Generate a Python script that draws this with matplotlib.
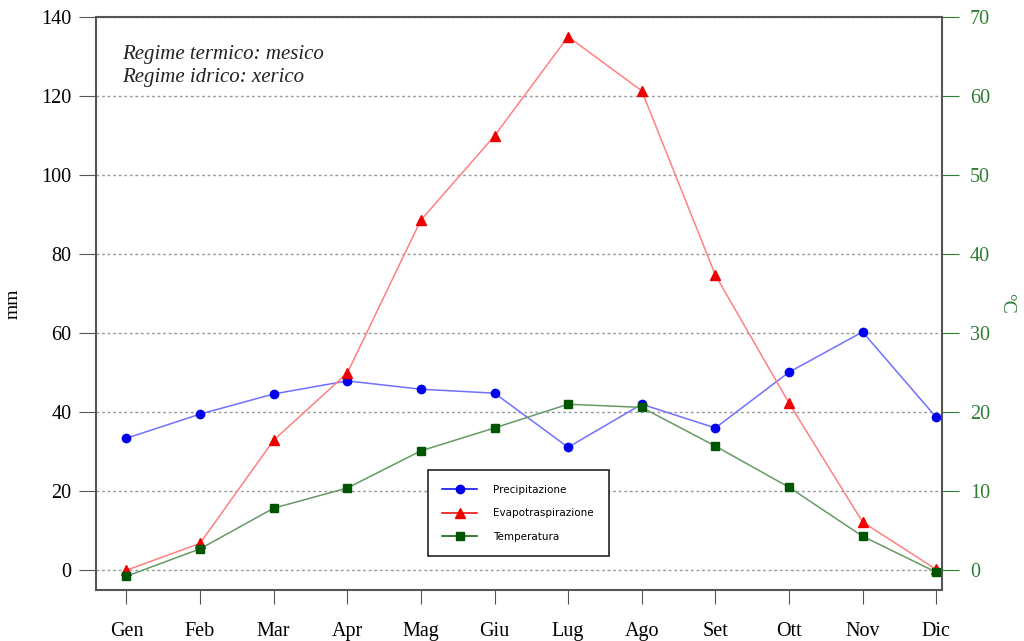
import numpy as np
import matplotlib.pyplot as plt

months = ["Gen", "Feb", "Mar", "Apr", "Mag", "Giu", "Lug", "Ago", "Set", "Ott", "Nov", "Dic"]
precipitazione = [33.4, 39.5, 44.6, 47.9, 45.8, 44.8, 31.1, 42.0, 36.0, 50.1, 60.3, 38.7]
evapotraspirazione = [0.0, 6.8, 32.9, 49.9, 88.6, 109.9, 135.0, 121.3, 74.7, 42.3, 12.2, 0.2]
temperatura = [-0.76, 2.7, 7.85, 10.4, 15.1, 18.0, 21.0, 20.6, 15.7, 10.5, 4.3, -0.25]

plt.rcParams['font.family'] = ['Liberation Serif', 'DejaVu Serif']

fig = plt.figure(figsize=(10.24, 6.41), dpi=100)
ax = fig.add_axes([0.094, 0.0796, 0.826, 0.894])
x = np.arange(len(months))

# lines drawn lightly, markers on top
ax.plot(x, precipitazione, color='#7070ff', lw=1.1, zorder=2)
ax.plot(x, precipitazione, 'o', color='#0000ee', ms=6, zorder=3)
ax.plot(x, evapotraspirazione, color='#ff8080', lw=1.1, zorder=2)
ax.plot(x, evapotraspirazione, '^', color='#ee0000', ms=7, zorder=3)

ax.set_xlim(-0.41, 11.08)
ax.set_ylim(-5, 140)
ax.set_yticks(np.arange(0, 141, 20))
ax.set_xticks(x)
ax.set_xticklabels(months)
ax.tick_params(axis='x', length=10, pad=13, labelsize=14.5, color='#555555')
ax.tick_params(axis='y', length=12, pad=6, labelsize=14.5, color='#555555')
ax.grid(axis='y', linestyle=(0, (2, 2)), color='#999999', lw=1)
ax.set_ylabel("mm", fontsize=14, labelpad=14)
for s in ax.spines.values():
    s.set_color('#555555')
    s.set_linewidth(1.5)

ax2 = ax.twinx()
ax2.plot(x, temperatura, color='#669966', lw=1.1, zorder=2)
ax2.plot(x, temperatura, 's', color='#005500', ms=6, zorder=3)
ax2.set_ylim(-2.5, 70)
ax2.set_yticks(np.arange(0, 71, 10))
ax2.tick_params(axis='y', length=12, pad=8, labelsize=14.5, colors='#2e7d32')
ax2.set_ylabel("°C", fontsize=14, color='#2e7d32', rotation=270, labelpad=18)
for s in ax2.spines.values():
    s.set_visible(False)

ax.text(0.031, 0.951, "Regime termico: mesico\nRegime idrico: xerico",
        transform=ax.transAxes, fontsize=15, style='italic', va='top',
        linespacing=1.3, color='#222222')

h1, = ax.plot([], [], '-o', color='#0000ee', ms=6, lw=1.1)
h2, = ax.plot([], [], '-^', color='#ee0000', ms=7, lw=1.1)
h3, = ax.plot([], [], '-s', color='#005500', ms=6, lw=1.1)
leg = ax.legend([h1, h2, h3], ["Precipitazione", "Evapotraspirazione", "Temperatura"],
                loc='upper left', bbox_to_anchor=(0.392, 0.209),
                prop={'family': 'DejaVu Sans', 'size': 7.5},
                fancybox=False, framealpha=1, edgecolor='#222222',
                borderpad=1.4, labelspacing=1.3, handlelength=3.3, handletextpad=1.6,
                borderaxespad=0)
leg.get_frame().set_linewidth(1.2)
leg.set_zorder(5)

fig.savefig("out.png", dpi=100)
